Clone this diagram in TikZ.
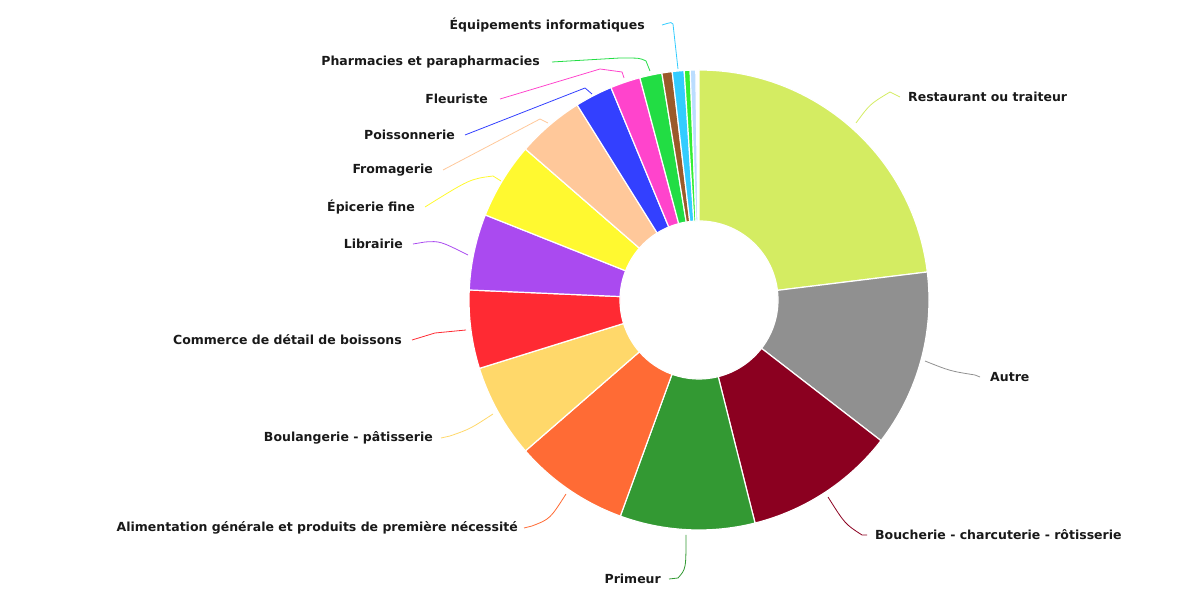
\documentclass[tikz,border=0pt]{standalone}
\usepackage{fontspec}
\setmainfont{DejaVu Sans}
\begin{document}
\begin{tikzpicture}[x=1pt,y=1pt,
  lab/.style={font=\bfseries\fontsize{12.5}{15}\selectfont,inner sep=0pt,text=black!90},
  lead/.style={line width=0.8pt}]
\useasboundingbox (0,0) rectangle (1200,599);
\coordinate (c) at (699,299);
\definecolor{cA}{HTML}{D4EC62}\definecolor{cB}{HTML}{909090}\definecolor{cC}{HTML}{8B0020}
\definecolor{cD}{HTML}{339933}\definecolor{cE}{HTML}{FF6B35}\definecolor{cF}{HTML}{FFD86A}
\definecolor{cG}{HTML}{FF2A33}\definecolor{cH}{HTML}{AA4AF0}\definecolor{cI}{HTML}{FFF930}
\definecolor{cJ}{HTML}{FFC89A}\definecolor{cK}{HTML}{3340FF}\definecolor{cL}{HTML}{FF44CC}
\definecolor{cM}{HTML}{22DD44}\definecolor{cN}{HTML}{9A5A2A}\definecolor{cO}{HTML}{33CCFF}
\definecolor{cP}{HTML}{33EE33}\definecolor{cQ}{HTML}{BBDDFF}
\foreach \s/\e/\col in {90/7/cA,7/-37.7/cB,-37.7/-75.9/cC,-75.9/-110/cD,-110/-139/cE,
  -139/-162.7/cF,-162.7/-182.5/cG,-182.5/-201.7/cH,-201.7/-221/cI,-221/-238/cJ,
  -238/-247.5/cK,-247.5/-255.1/cL,-255.1/-260.7/cM,-260.7/-263.3/cN,-263.3/-266.3/cO,
  -266.3/-267.8/cP,-267.8/-269.2/cQ}
  \filldraw[fill=\col,draw=white,line width=1.2pt]
    ([shift={(\s:79)}]c) arc[start angle=\s,end angle=\e,radius=79]
    -- ([shift={(\e:230)}]c) arc[start angle=\e,end angle=\s,radius=230] -- cycle;
% labels
\node[lab,anchor=west] (lA) at (908,502) {Restaurant ou traiteur};
\node[lab,anchor=west] (lB) at (990,222) {Autre};
\node[lab,anchor=west] (lC) at (875,64) {Boucherie - charcuterie - rôtisserie};
\node[lab,anchor=east] (lD) at (661,20) {Primeur};
\node[lab,anchor=east] (lE) at (518,71) {Alimentation générale et produits de première nécessité};
\node[lab,anchor=east] (lF) at (433,161) {Boulangerie - pâtisserie};
\node[lab,anchor=east] (lG) at (402,259) {Commerce de détail de boissons};
\node[lab,anchor=east] (lH) at (403,355) {Librairie};
\node[lab,anchor=east] (lI) at (415,392) {Épicerie fine};
\node[lab,anchor=east] (lJ) at (433,429) {Fromagerie};
\node[lab,anchor=east] (lK) at (455,464) {Poissonnerie};
\node[lab,anchor=east] (lL) at (488,500) {Fleuriste};
\node[lab,anchor=east] (lM) at (540,537) {Pharmacies et parapharmacies};
\node[lab,anchor=east] (lN) at (645,574) {Équipements informatiques};
% leader points
\coordinate (pA) at (856,476); \coordinate (pB) at (925,238); \coordinate (pC) at (828,102);
\coordinate (pD) at (686,64); \coordinate (pE) at (566,105); \coordinate (pF) at (493,185);
\coordinate (pG) at (466,269); \coordinate (pH) at (468,344); \coordinate (pI) at (501,418);
\coordinate (pJ) at (548,476); \coordinate (pK) at (592,505); \coordinate (pL) at (624,521);
\coordinate (pM) at (650,528); \coordinate (pN) at (678,530);
\draw[lead,cA] (pA) .. controls (870,495) .. (890,507) -- ([xshift=-8pt]lA.west);
\draw[lead,cB] (pB) .. controls (950,228) .. (975,224) -- ([xshift=-10pt]lB.west);
\draw[lead,cC] (pC) .. controls (845,75) .. (862,64) -- ([xshift=-8pt]lC.west);
\draw[lead,cD] (pD) .. controls (686,30) .. (678,21) -- ([xshift=8pt]lD.east);
\draw[lead,cE] (pE) .. controls (550,80) .. (532,73) -- ([xshift=6pt]lE.east);
\draw[lead,cF] (pF) .. controls (470,170) .. (450,163) -- ([xshift=8pt]lF.east);
\draw[lead,cG] (pG) -- (435,266) -- ([xshift=10pt]lG.east);
\draw[lead,cH] (pH) .. controls (440,358) .. (425,357) -- ([xshift=10pt]lH.east);
\draw[lead,cI] (pI) -- (493,423) .. controls (470,420) .. ([xshift=10pt]lI.east);
\draw[lead,cJ] (pJ) -- (540,480) -- ([xshift=10pt]lJ.east);
\draw[lead,cK] (pK) -- (585,511) -- ([xshift=10pt]lK.east);
\draw[lead,cL] (pL) -- (622,527) -- (600,530) -- ([xshift=12pt]lL.east);
\draw[lead,cM] (pM) -- (646,538) .. controls (640,541) .. (620,541) -- ([xshift=12pt]lM.east);
\draw[lead,cO] (pN) -- (673,575) .. controls (672,577) .. ([xshift=17pt]lN.east);
\end{tikzpicture}
\end{document}
